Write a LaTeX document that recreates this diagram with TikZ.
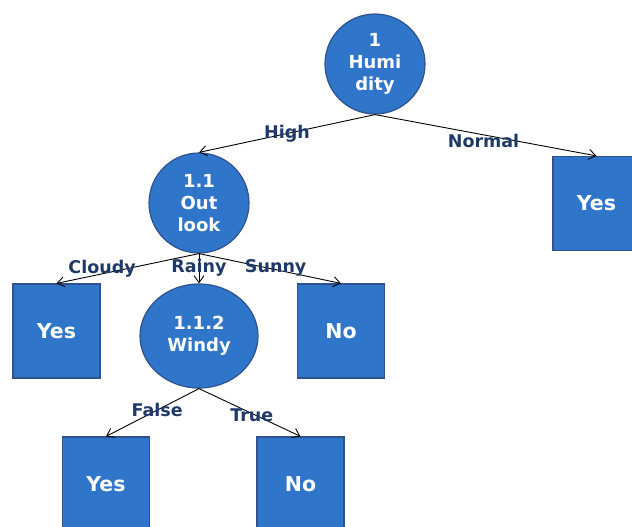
\documentclass[tikz,border=0pt]{standalone}
\usepackage{fontspec}
\setmainfont{DejaVu Sans}
\usetikzlibrary{arrows.meta, shapes.geometric}
\definecolor{nodeblue}{HTML}{2F75C9}
\definecolor{rimblue}{HTML}{2F528F}
\definecolor{labelnavy}{HTML}{1F3A68}
\tikzstyle{test}=[draw=rimblue,fill=nodeblue,circle,line width=1.2pt,inner sep=0pt,minimum size=100pt,text=white,font=\fontsize{18}{22}\selectfont\bfseries,align=center]
\tikzstyle{leaf}=[draw=rimblue,fill=nodeblue,rectangle,line width=1.2pt,minimum width=87pt,minimum height=94pt,text=white,font=\fontsize{20.5}{22}\selectfont\bfseries]
\tikzstyle{branch}=[font=\fontsize{17.5}{18}\selectfont\bfseries,text=labelnavy,inner sep=1pt]
\begin{document}
\begin{tikzpicture}[x=1pt,y=-1pt,>={Straight Barb[length=7pt,width=10pt]}]
  \useasboundingbox (0,0) rectangle (632,527);
  \clip (0,0) rectangle (632,527);
  % tests
  \node[test] (hum) at (375,64) {1\\Humi\\dity};
  \node[test] (out) at (199,203) {1.1\\Out\\look};
  \node[test,ellipse,minimum width=118pt,minimum height=104pt] (wind) at (199,336) {1.1.2\\Windy};
  % leaves
  \node[leaf] (yesA) at (596.5,203.5) {Yes};
  \node[leaf] (yesB) at (56.5,331) {Yes};
  \node[leaf] (noB) at (341,331) {No};
  \node[leaf] (yesC) at (106,484) {Yes};
  \node[leaf] (noC) at (300.5,484) {No};
  % branches
  \draw[->,line width=.9pt] (hum.south) -- node[branch,pos=.5] {High} (out.north);
  \draw[->,line width=.9pt] (hum.south) -- node[branch,pos=.49,yshift=-6pt] {Normal} (yesA.north);
  \draw[->,line width=.9pt] (out.south) -- node[branch,pos=.68,yshift=5pt] {Cloudy} (yesB.north);
  \draw[->,line width=.9pt] (out.south) -- node[branch,pos=.47] {Rainy} (wind.north);
  \draw[->,line width=.9pt] (out.south) -- node[branch,pos=.54,yshift=2pt] {Sunny} (noB.north);
  \draw[->,line width=.9pt] (wind.south) -- node[branch,pos=.45] {False} (yesC.north);
  \draw[->,line width=.9pt] (wind.south) -- node[branch,pos=.52,yshift=-2pt] {True} (noC.north);
\end{tikzpicture}
\end{document}
